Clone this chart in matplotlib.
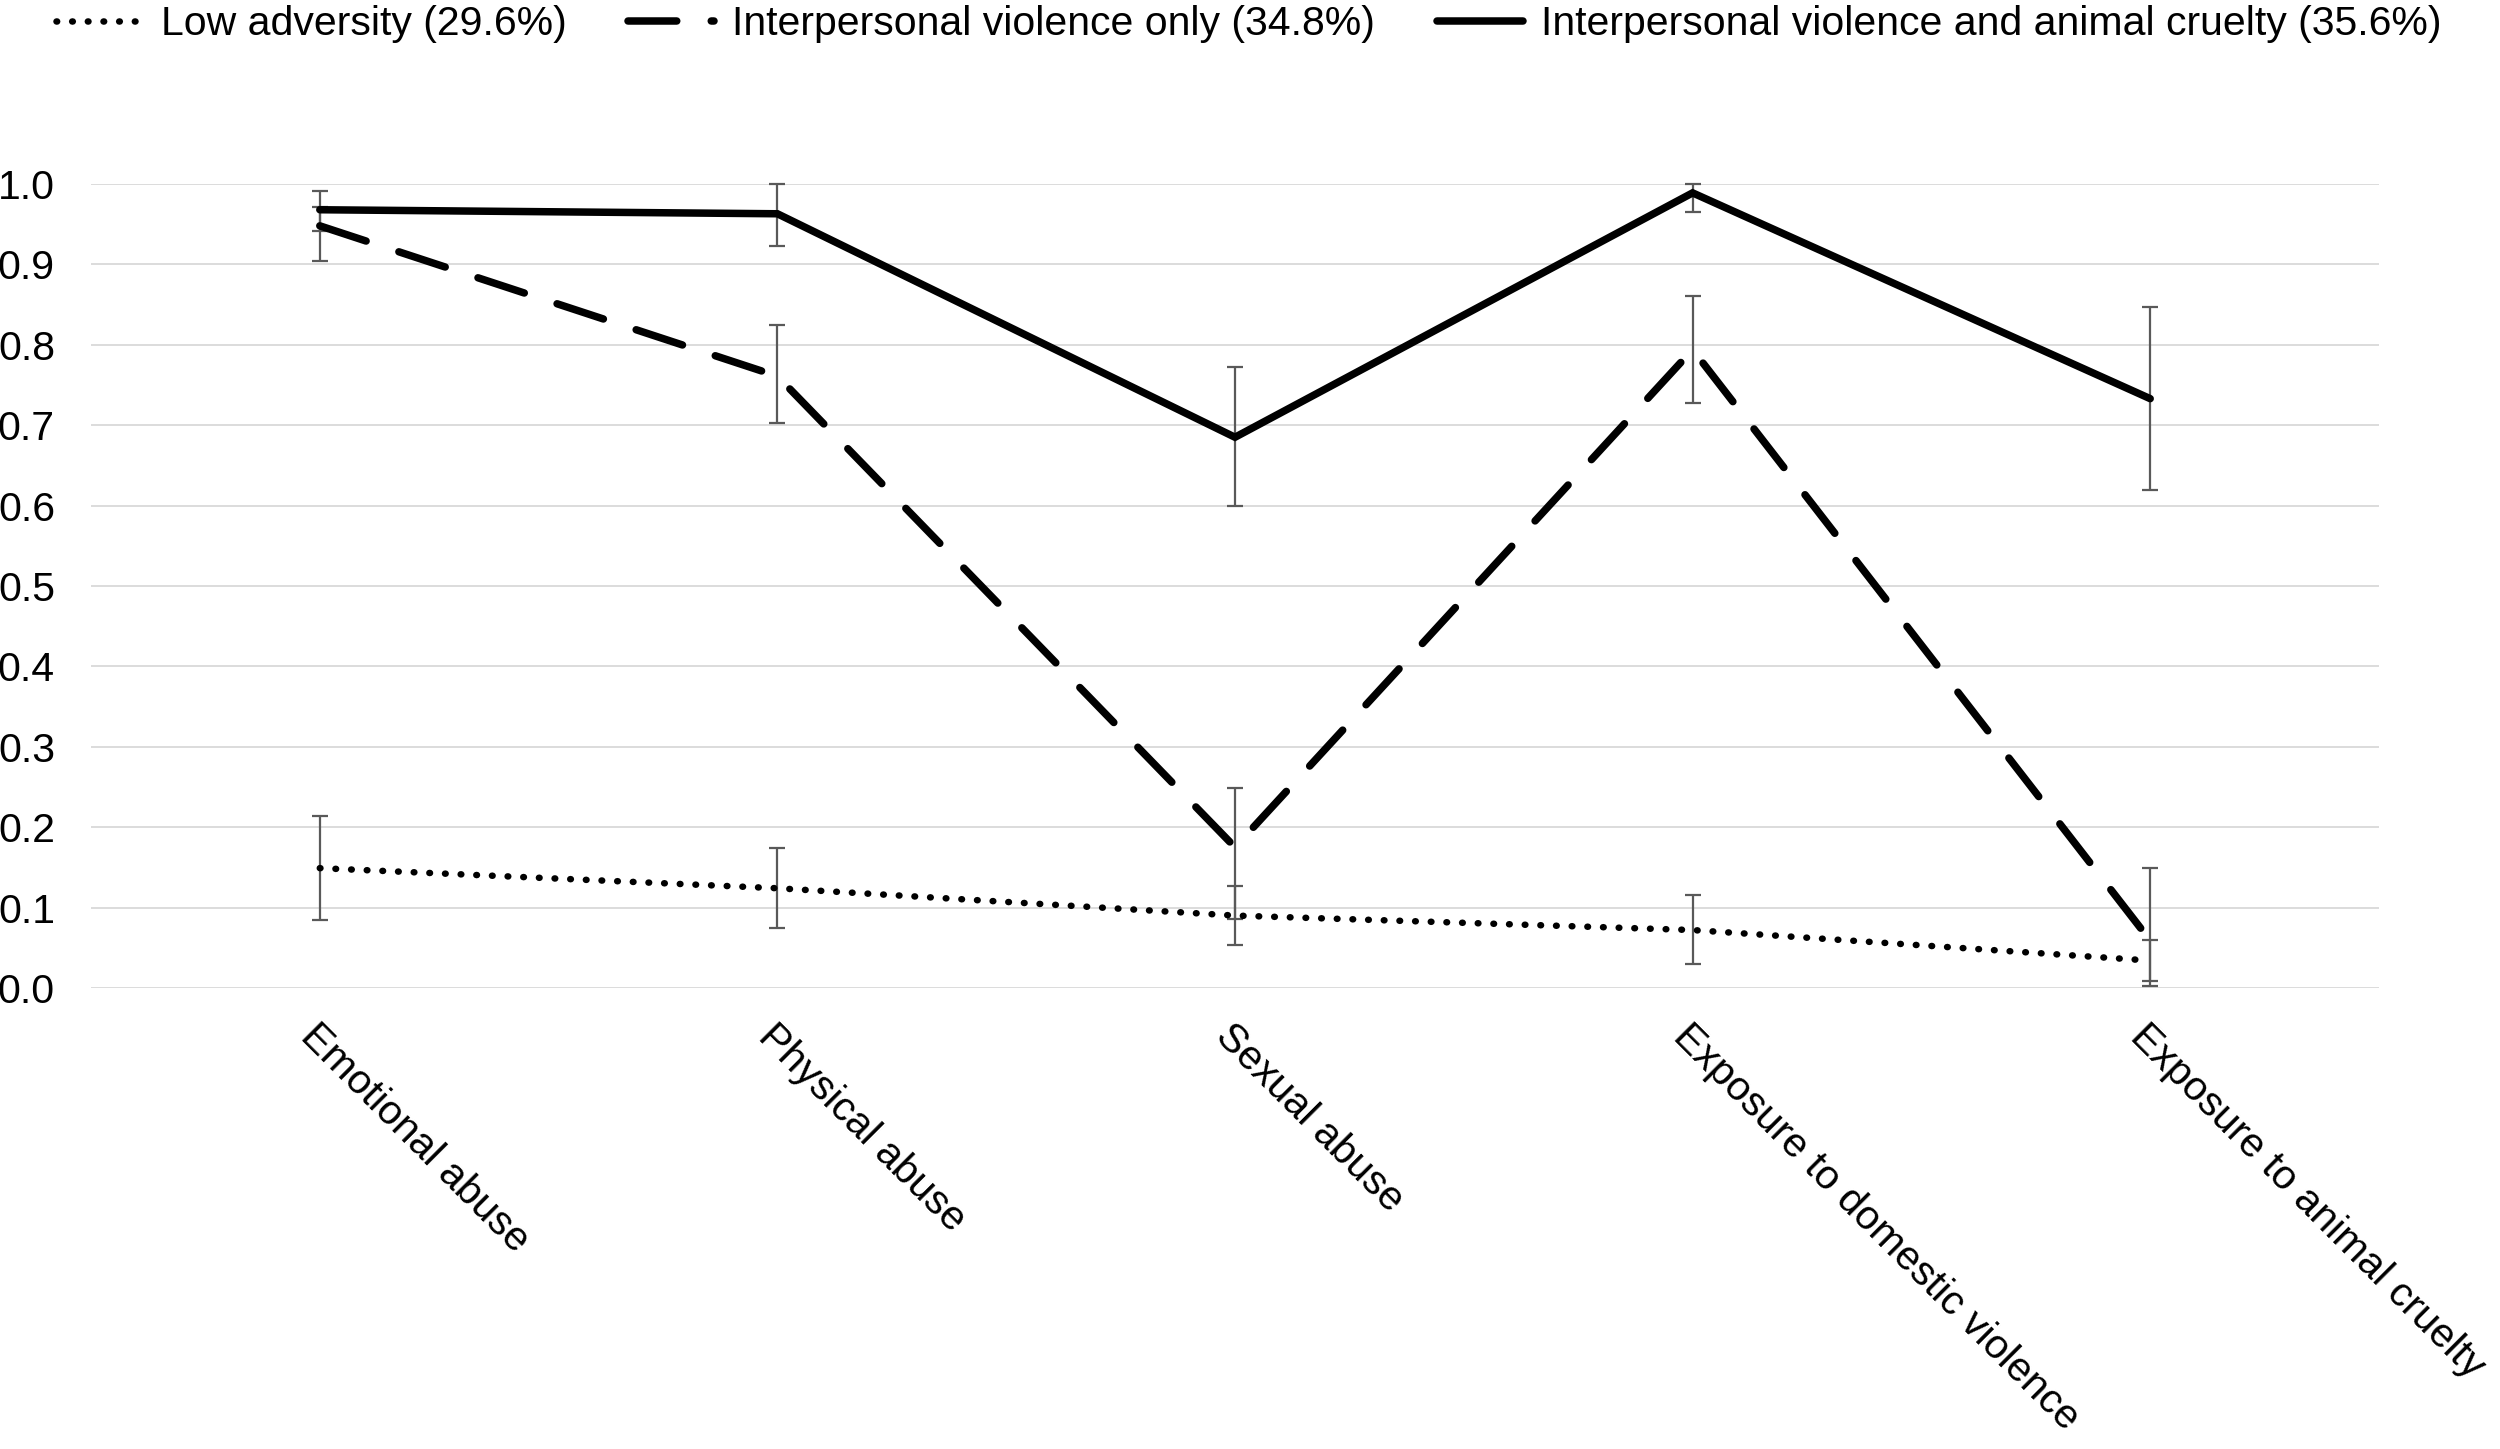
import matplotlib
matplotlib.use("Agg")
import matplotlib.pyplot as plt
import numpy as np

plt.rcParams["font.family"] = ["Liberation Sans", "DejaVu Sans"]

# Data
categories = [
    "Emotional abuse",
    "Physical abuse",
    "Sexual abuse",
    "Exposure to domestic violence",
    "Exposure to animal cruelty",
]
series_labels = [
    "Low adversity (29.6%)",
    "Interpersonal violence only (34.8%)",
    "Interpersonal violence and animal cruelty (35.6%)",
]

low = [0.149, 0.124, 0.090, 0.072, 0.034]
low_lo = [0.085, 0.075, 0.053, 0.030, 0.009]
low_hi = [0.214, 0.174, 0.127, 0.115, 0.059]

ipv = [0.948, 0.761, 0.175, 0.794, 0.059]
ipv_lo = [0.904, 0.703, 0.086, 0.728, 0.002]
ipv_hi = [0.972, 0.825, 0.249, 0.861, 0.149]

ipv_ac = [0.968, 0.963, 0.685, 0.989, 0.733]
ipv_ac_lo = [0.941, 0.923, 0.600, 0.965, 0.620]
ipv_ac_hi = [0.991, 1.000, 0.773, 1.000, 0.847]

yticks = [0.0, 0.1, 0.2, 0.3, 0.4, 0.5, 0.6, 0.7, 0.8, 0.9, 1.0]

FS = 29.5
LW = 5.4
err_color = "#595959"
grid_color = "#d9d9d9"

fig = plt.figure(figsize=(25, 14.49), dpi=100)
ax = fig.add_axes([0.0364, 0.3182, 0.9152, 0.5548])

x = np.arange(len(categories))

styles = [
    dict(linestyle=(0, (0.1, 2.3)), linewidth=4.7, dash_capstyle="round"),
    dict(linestyle=(0, (6.5, 4.6)), linewidth=LW, dash_capstyle="round"),
    dict(linestyle="-", linewidth=LW, solid_capstyle="round"),
]
series = [(low, low_lo, low_hi), (ipv, ipv_lo, ipv_hi), (ipv_ac, ipv_ac_lo, ipv_ac_hi)]

# error bars sit under the lines
for vals, lo, hi in series:
    vals = np.array(vals)
    yerr = np.vstack([vals - np.array(lo), np.array(hi) - vals])
    eb = ax.errorbar(x, vals, yerr=yerr, fmt="none", ecolor=err_color,
                     elinewidth=1.6, capsize=5.8, capthick=1.6, zorder=2)
    for part in eb.get_children():
        part.set_clip_on(False)

handles = []
for (vals, lo, hi), st, lab in zip(series, styles, series_labels):
    line, = ax.plot(x, vals, color="black", solid_joinstyle="miter", zorder=3,
                    clip_on=False, label=lab, **st)
    handles.append(line)

ax.set_xlim(-0.5, len(categories) - 0.5)
ax.set_ylim(0, 1.0)
ax.set_yticks(yticks)
ax.set_yticklabels([f"{v:.1f}" for v in yticks], fontsize=FS)
ax.yaxis.grid(True, color=grid_color, linewidth=1.3)
ax.set_axisbelow(True)
for s in ax.spines.values():
    s.set_visible(False)

ax.set_xticks(x)
ax.set_xticklabels(categories, fontsize=FS, rotation=-45, ha="left", va="top",
                   rotation_mode="anchor")
ax.tick_params(axis="y", length=0, pad=26)
ax.tick_params(axis="x", length=0, pad=21)

fig.legend(handles=handles, loc="center", bbox_to_anchor=(0.4996, 0.9834),
           ncol=3, frameon=False, fontsize=FS, handlelength=2.1,
           handletextpad=0.45, columnspacing=1.5, borderpad=0, borderaxespad=0)

fig.savefig("out.png", dpi=100)
